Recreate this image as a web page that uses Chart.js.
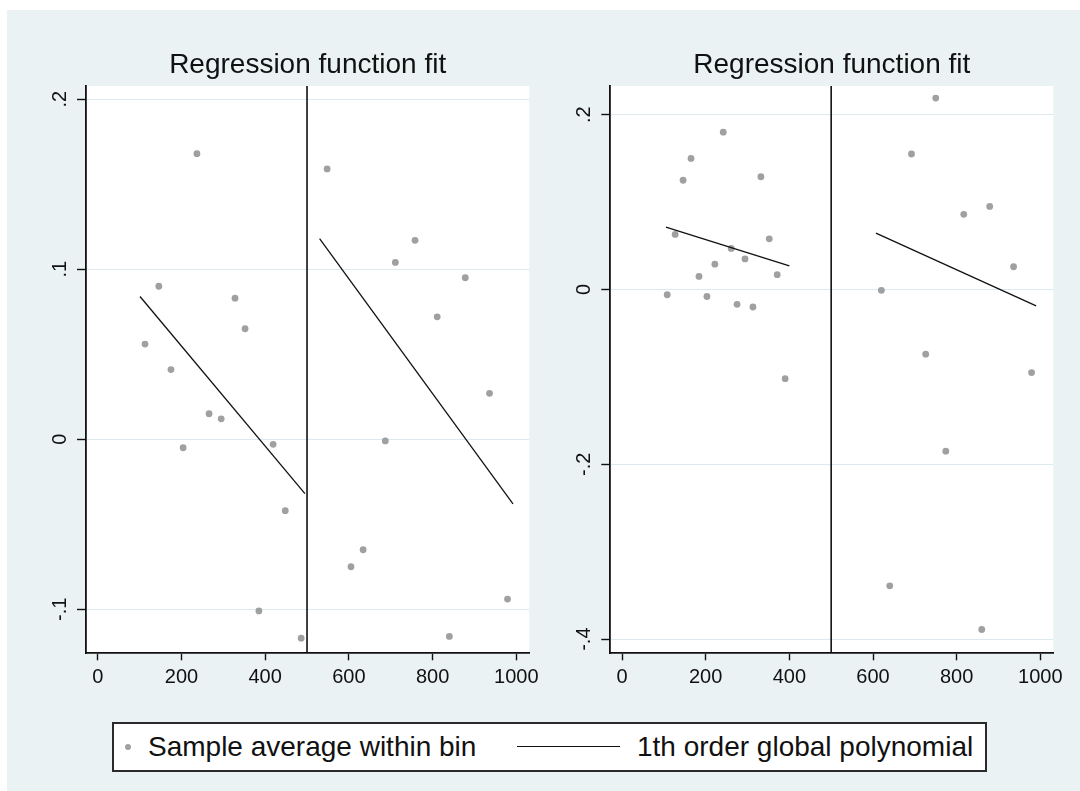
<!DOCTYPE html>
<html>
<head>
<meta charset="utf-8">
<script src="https://cdn.jsdelivr.net/npm/chart.js@4/dist/chart.umd.min.js"></script>
<style>
  html, body { margin: 0; padding: 0; background: #ffffff; }
  body { width: 1080px; height: 791px; position: relative; overflow: hidden;
         font-family: "Liberation Sans", Arial, sans-serif; }
  #bg { position: absolute; left: 7px; top: 10px; right: 0; bottom: 0; background: #eaf2f3; }
  canvas { position: absolute; top: 0; }
  #c1 { left: 0; }
  #c2 { left: 545px; }
  #legend { position: absolute; left: 112px; top: 722px; width: 875px; height: 50px;
            box-sizing: border-box; border: 2px solid #2a2a2a; background: #ffffff; }
  .lg { position: absolute; font-size: 28px; line-height: 28px; color: #111; white-space: nowrap; }
  #dot { position: absolute; width: 6px; height: 6px; border-radius: 50%; background: #a0a0a0; }
  #ln { position: absolute; height: 0; border-top: 1.6px solid #111; }
</style>
</head>
<body>
<div id="bg"></div>
<canvas id="c1" width="545" height="700"></canvas>
<canvas id="c2" width="535" height="700"></canvas>
<div id="legend"></div>
<div id="dot" style="left:125px; top:744px;"></div>
<span class="lg" style="left:148px; top:733px;">Sample average within bin</span>
<div id="ln" style="left:517px; top:746px; width:103px;"></div>
<span class="lg" style="left:637px; top:733px;">1th order global polynomial</span>

<script>
// ---- data ----
const chartTitle = 'Regression function fit';
const cutoff = 500;
const xTicks = [0, 200, 400, 600, 800, 1000];
const xTickLabels = ['0', '200', '400', '600', '800', '1000'];
const xRange = [-28, 1031];

// panel 1
const p1YTicks = [-0.1, 0, 0.1, 0.2];
const p1YTickLabels = ['-.1', '0', '.1', '.2'];
const p1YRange = [-0.1259, 0.2078];
const p1BinX = [113, 146, 175, 204, 237, 266, 295, 328, 352, 385, 419, 448, 486,
                548, 605, 634, 687, 711, 758, 811, 840, 878, 936, 979];
const p1BinY = [0.056, 0.090, 0.041, -0.005, 0.168, 0.015, 0.012, 0.083, 0.065, -0.101, -0.003, -0.042, -0.117,
                0.159, -0.075, -0.065, -0.001, 0.104, 0.117, 0.072, -0.116, 0.095, 0.027, -0.094];
const p1FitLeftX = [101, 495];
const p1FitLeftY = [0.084, -0.032];
const p1FitRightX = [530, 992];
const p1FitRightY = [0.118, -0.038];

// panel 2
const p2YTicks = [-0.4, -0.2, 0, 0.2];
const p2YTickLabels = ['-.4', '-.2', '0', '.2'];
const p2YRange = [-0.4162, 0.2328];
const p2BinX = [108, 127, 146, 165, 184, 203, 222, 242, 261, 275, 294, 313, 332, 352, 371, 390,
                620, 640, 692, 726, 750, 774, 817, 860, 879, 936, 979];
const p2BinY = [-0.006, 0.063, 0.125, 0.150, 0.015, -0.008, 0.029, 0.180, 0.047, -0.017, 0.035, -0.020, 0.129, 0.058, 0.017, -0.102,
                -0.001, -0.339, 0.155, -0.074, 0.219, -0.185, 0.086, -0.389, 0.095, 0.026, -0.095];
const p2FitLeftX = [105, 400];
const p2FitLeftY = [0.0713, 0.0271];
const p2FitRightX = [607, 990];
const p2FitRightY = [0.0645, -0.0187];

// ---- drawing ----
const FONT = '"Liberation Sans", Arial, sans-serif';
const INK = '#111111';

const plotBackground = {
  id: 'plotBackground',
  beforeDraw(chart) {
    const a = chart.chartArea, ctx = chart.ctx;
    ctx.save();
    ctx.fillStyle = '#ffffff';
    ctx.fillRect(a.left, a.top, a.right - a.left, a.bottom - a.top);
    ctx.restore();
  }
};

function pts(xs, ys) { return xs.map((x, i) => ({ x: x, y: ys[i] })); }

function makePanel(canvasId, cfg) {
  const lineDs = (data, w) => ({
    type: 'line', data: data, borderColor: INK, borderWidth: w,
    pointRadius: 0, fill: false, tension: 0, order: 1
  });
  return new Chart(document.getElementById(canvasId), {
    type: 'scatter',
    data: {
      datasets: [
        { type: 'scatter', data: pts(cfg.binX, cfg.binY), backgroundColor: '#a0a0a0',
          borderWidth: 0, pointRadius: 3.4, pointStyle: 'circle', order: 2 },
        lineDs(pts(cfg.fitLX, cfg.fitLY), 1.3),
        lineDs(pts(cfg.fitRX, cfg.fitRY), 1.3),
        lineDs([{ x: cutoff, y: cfg.yRange[0] }, { x: cutoff, y: cfg.yRange[1] }], 1.6)
      ]
    },
    options: {
      responsive: false,
      devicePixelRatio: 1,
      animation: false,
      events: [],
      layout: { padding: { left: 0, top: 0, right: cfg.padRight, bottom: 0 } },
      plugins: {
        legend: { display: false },
        tooltip: { enabled: false },
        title: {
          display: true, text: chartTitle, fullSize: false, color: INK,
          font: { family: FONT, size: 28, weight: 'normal', lineHeight: 1.2 },
          padding: { top: 48.2, bottom: 4.2 }
        }
      },
      scales: {
        x: {
          type: 'linear', min: xRange[0], max: xRange[1],
          afterBuildTicks: s => { s.ticks = xTicks.map(v => ({ value: v })); },
          afterFit: s => { s.height = 700 - 653.3; s.paddingLeft = 0; s.paddingRight = 0; },
          grid: { drawOnChartArea: false, drawTicks: true, tickLength: 7, tickColor: INK, tickWidth: 1.4 },
          border: { display: true, color: INK, width: 1.8 },
          ticks: {
            color: INK, padding: 5, maxRotation: 0, autoSkip: false,
            font: { family: FONT, size: 20 },
            callback: (v, i) => xTickLabels[i]
          }
        },
        y: {
          type: 'linear', min: cfg.yRange[0], max: cfg.yRange[1],
          afterBuildTicks: s => { s.ticks = cfg.yTicks.map(v => ({ value: v })); },
          afterFit: s => { s.width = cfg.yAxisWidth; s.paddingTop = 0; s.paddingBottom = 0; },
          grid: { drawOnChartArea: true, color: '#dde9ee', lineWidth: 1,
                  drawTicks: true, tickLength: 9, tickColor: INK, tickWidth: 1.4 },
          border: { display: true, color: INK, width: 1.8 },
          ticks: {
            color: INK, padding: 5, minRotation: 90, maxRotation: 90, crossAlign: 'center',
            autoSkip: false, font: { family: FONT, size: 20 },
            callback: (v, i) => cfg.yTickLabels[i]
          }
        }
      }
    },
    plugins: [plotBackground]
  });
}

makePanel('c1', {
  binX: p1BinX, binY: p1BinY,
  fitLX: p1FitLeftX, fitLY: p1FitLeftY, fitRX: p1FitRightX, fitRY: p1FitRightY,
  yRange: p1YRange, yTicks: p1YTicks, yTickLabels: p1YTickLabels,
  yAxisWidth: 86, padRight: 545 - 529.3
});
makePanel('c2', {
  binX: p2BinX, binY: p2BinY,
  fitLX: p2FitLeftX, fitLY: p2FitLeftY, fitRX: p2FitRightX, fitRY: p2FitRightY,
  yRange: p2YRange, yTicks: p2YTicks, yTickLabels: p2YTickLabels,
  yAxisWidth: 610.3 - 545, padRight: 535 - 508.3
});
</script>
</body>
</html>
